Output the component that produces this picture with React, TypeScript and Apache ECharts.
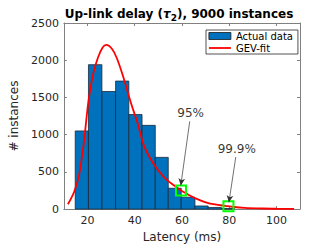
import React, { useEffect, useRef } from "react";
import * as echarts from "echarts";

const FONT = "DejaVu Sans";

// Histogram bins (edges, ms) and counts
const binEdges = [14.8, 20.4, 26.1, 31.9, 37.5, 43.1, 48.7, 54.2, 59.7, 65.5, 71.1, 76.7, 82.3];
const binCounts = [1050, 1940, 1580, 1720, 1270, 1125, 695, 280, 160, 42, 22, 9];

// GEV fit curve
const gevX = [11.7, 13, 14.4, 16.4, 18.4, 20.4, 22.4, 24.4, 26.4, 28, 30.4, 32.4, 35, 38.4, 41.1, 43.7, 46.4, 48.4, 51.1, 53.7, 56.4, 59.6, 62.4, 66, 70.4, 74, 78.4, 82, 86.4, 94.4, 100, 107.5];
const gevY = [65, 140, 237, 453, 880, 1450, 1817, 2034, 2172, 2205, 2150, 2030, 1790, 1425, 1166, 870, 690, 590, 475, 389, 324, 250, 200, 140, 87, 62, 43, 28, 17, 8, 5, 3];

// Percentile markers
const markerX = [59.6, 79.7];
const markerY = [250, 39];
const markerLabels = ["95%", "99.9%"];
const labelX = [63.7, 83.2];
const labelY = [1286, 803];
const arrowStartX = [63.3, 82.8];
const arrowStartY = [1179, 700];
const arrowEndX = [59.5, 79.9];
const arrowEndY = [317, 91];

const xTicks = [20, 40, 60, 80, 100];

export default function App() {
  const ref = useRef<HTMLDivElement>(null);
  useEffect(() => {
    if (!ref.current) return;
    const chart = echarts.init(ref.current, undefined, { renderer: "svg" });
    const axisLineStyle = { color: "#808080", width: 1 };
    const histData = binCounts.map((c, i) => [binEdges[i], binEdges[i + 1], c]);
    const option: any = {
      animation: false,
      backgroundColor: "#fff",
      textStyle: { fontFamily: FONT },
      title: {
        text: "Up-link delay ({t|τ}{s|2}), 9000 instances",
        left: 174,
        top: 1,
        textAlign: "center",
        textStyle: {
          fontFamily: FONT,
          fontSize: 12,
          fontWeight: "bold",
          color: "#000",
          rich: {
            t: { fontFamily: FONT, fontSize: 12, fontStyle: "italic", fontWeight: "bold", color: "#000" },
            s: { fontFamily: FONT, fontSize: 9, fontWeight: "bold", color: "#000", padding: [7, 0, 0, 0] },
          },
        },
      },
      grid: { left: 49, right: 32, top: 23, bottom: 33 },
      legend: {
        orient: "vertical",
        left: 206,
        top: 30,
        padding: [1, 5, 1, 2],
        itemGap: 2,
        itemWidth: 22,
        itemHeight: 7,
        backgroundColor: "#fff",
        borderColor: "#262626",
        borderWidth: 0.8,
        borderRadius: 0,
        textStyle: { fontFamily: FONT, fontSize: 10, color: "#000" },
        data: [
          { name: "Actual data", icon: "rect", itemStyle: { color: "#0072BD", borderColor: "#1a1a1a", borderWidth: 0.8 } },
          {
            name: "GEV-fit",
            itemStyle: { color: "rgba(0,0,0,0)", borderColor: "rgba(0,0,0,0)", borderWidth: 0, opacity: 0 },
            lineStyle: { color: "#ff0000", width: 1.8 },
          },
        ],
      },
      xAxis: [
        {
          type: "value",
          min: 10,
          max: 110,
          position: "bottom",
          name: "Latency (ms)",
          nameLocation: "middle",
          nameGap: 21,
          nameTextStyle: { fontFamily: FONT, fontSize: 12, color: "#262626" },
          axisLine: { show: true, onZero: false, lineStyle: axisLineStyle },
          axisTick: { show: true, inside: true, length: 3, customValues: xTicks, lineStyle: axisLineStyle },
          axisLabel: { show: true, customValues: xTicks, margin: 6, fontFamily: FONT, fontSize: 11, color: "#262626", formatter: (v: number) => String(v) },
          splitLine: { show: false },
        },
        {
          type: "value",
          min: 10,
          max: 110,
          position: "top",
          axisLine: { show: true, onZero: false, lineStyle: axisLineStyle },
          axisTick: { show: true, inside: true, length: 3, customValues: xTicks, lineStyle: axisLineStyle },
          axisLabel: { show: false },
          splitLine: { show: false },
        },
      ],
      yAxis: [
        {
          type: "value",
          min: 0,
          max: 2500,
          interval: 500,
          position: "left",
          name: "# instances",
          nameLocation: "middle",
          nameGap: 36,
          nameTextStyle: { fontFamily: FONT, fontSize: 12, color: "#262626" },
          axisLine: { show: true, onZero: false, lineStyle: axisLineStyle },
          axisTick: { show: true, inside: true, length: 3, lineStyle: axisLineStyle },
          axisLabel: { show: true, margin: 5, fontFamily: FONT, fontSize: 11, color: "#262626", formatter: (v: number) => String(v) },
          splitLine: { show: false },
        },
        {
          type: "value",
          min: 0,
          max: 2500,
          interval: 500,
          position: "right",
          axisLine: { show: true, onZero: false, lineStyle: axisLineStyle },
          axisTick: { show: true, inside: true, length: 3, lineStyle: axisLineStyle },
          axisLabel: { show: false },
          splitLine: { show: false },
        },
      ],
      series: [
        {
          name: "Actual data",
          type: "custom",
          itemStyle: { color: "#0072BD", borderColor: "#1a1a1a", borderWidth: 0.8 },
          encode: { x: [0, 1], y: 2 },
          data: histData,
          renderItem: (params: any, api: any) => {
            const p0 = api.coord([api.value(0), api.value(2)]);
            const p1 = api.coord([api.value(1), 0]);
            return {
              type: "rect",
              shape: { x: p0[0], y: p0[1], width: p1[0] - p0[0], height: p1[1] - p0[1] },
              style: { fill: "#0072BD", stroke: "#1a2a3a", lineWidth: 0.8 },
            };
          },
          z: 1,
        },
        {
          name: "GEV-fit",
          type: "line",
          data: gevX.map((x, i) => [x, gevY[i]]),
          showSymbol: false,
          symbol: "none",
          smooth: 0.3,
          lineStyle: { color: "#ff0000", width: 1.8 },
          itemStyle: { color: "#ff0000" },
          z: 3,
        },
        {
          name: "markers",
          type: "scatter",
          data: markerX.map((x, i) => [x, markerY[i]]),
          symbol: "rect",
          symbolSize: 10,
          itemStyle: { color: "rgba(0,0,0,0)", borderColor: "#00ff00", borderWidth: 2, opacity: 1 },
          z: 4,
        },
        {
          name: "labels",
          type: "scatter",
          data: labelX.map((x, i) => ({ value: [x, labelY[i]], name: markerLabels[i] })),
          symbolSize: 0,
          label: {
            show: true,
            position: "inside",
            formatter: (p: any) => p.name,
            fontFamily: FONT,
            fontSize: 12,
            color: "#000",
          },
          z: 5,
        },
        {
          name: "arrows",
          type: "line",
          data: [],
          markLine: {
            silent: true,
            symbol: ["none", "arrow"],
            symbolSize: [5, 7],
            label: { show: false },
            lineStyle: { color: "#333", width: 0.7, type: "solid" },
            data: arrowStartX.map((x, i) => [
              { coord: [x, arrowStartY[i]] },
              { coord: [arrowEndX[i], arrowEndY[i]] },
            ]),
          },
          z: 6,
        },
      ],
    };
    chart.setOption(option);
    return () => chart.dispose();
  }, []);
  return <div ref={ref} style={{ position: "fixed", left: 0, top: 0, width: 332, height: 248 }} />;
}
